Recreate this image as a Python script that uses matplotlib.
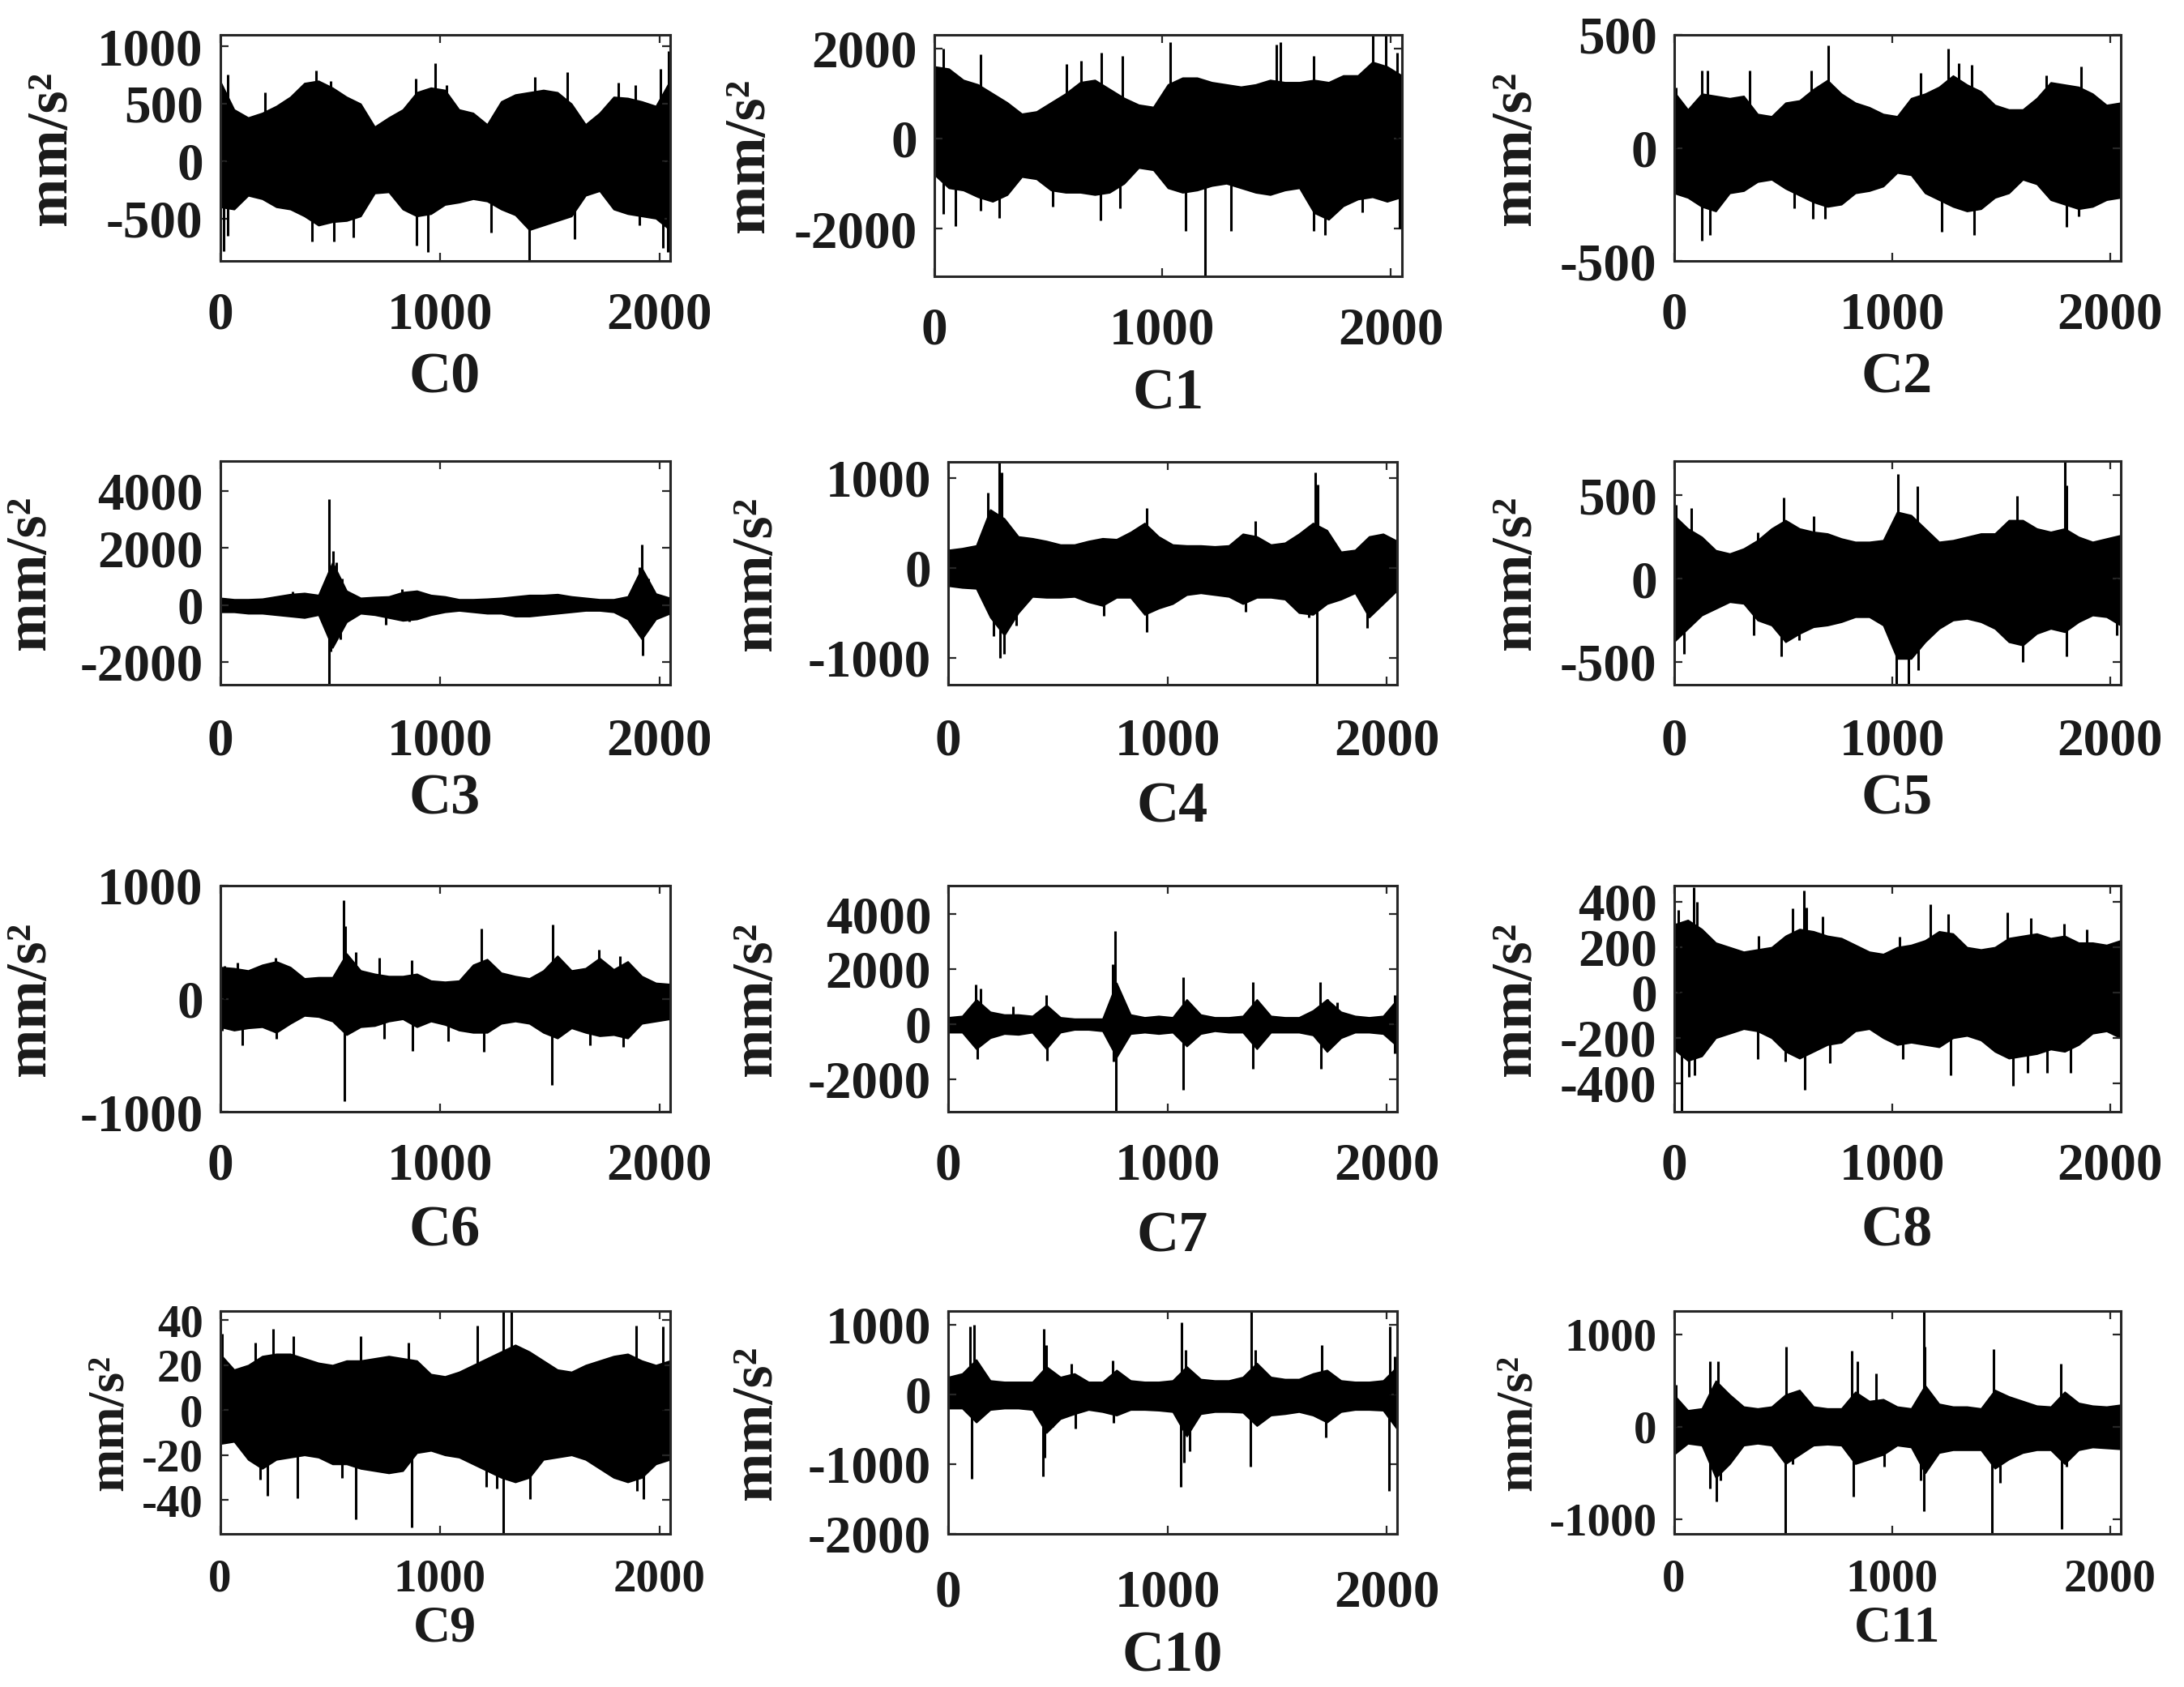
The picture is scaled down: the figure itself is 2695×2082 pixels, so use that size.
import numpy as np
import matplotlib
matplotlib.use('Agg')
import matplotlib.pyplot as plt

# fonts : bold Times-like serif, plain hyphen for negative numbers
plt.rcParams['font.family'] = ['Liberation Serif', 'DejaVu Serif']
plt.rcParams['font.weight'] = 'bold'
plt.rcParams['axes.unicode_minus'] = False

# step 1 : data
# envelope of each signal, read every 64 samples (0 .. 2048)
knots = np.arange(0, 2049, 64)

c0_upper = [700, 450, 380, 420, 480, 560, 680, 700, 640, 560, 500, 300, 380, 450, 600, 640, 620,
            450, 420, 320, 520, 580, 600, 620, 600, 500, 320, 420, 560, 550, 520, 480, 700]
c0_lower = [-400, -420, -300, -330, -400, -420, -480, -560, -530, -520, -480, -280, -270, -420, -480, -460, -380,
            -360, -330, -350, -420, -470, -600, -560, -520, -480, -300, -260, -420, -460, -480, -500, -600]
c0_peaks = [(36, 757), (205, 600), (438, 790), (502, 700), (890, 720), (978, 850), (1031, 660), (1434, 733),
            (1582, 773), (1815, 680), (1889, 660), (2006, 800), (2042, 960), (15, -783), (36, -650), (417, -700),
            (519, -700), (608, -665), (894, -735), (947, -795), (1233, -620), (1408, -860), (1614, -677),
            (1910, -560), (2016, -760), (2037, -790)]

c1_upper = [1600, 1550, 1300, 1200, 1000, 800, 550, 600, 800, 1000, 1250, 1300, 1100, 900, 750, 700, 1200,
            1350, 1350, 1250, 1200, 1150, 1200, 1300, 1250, 1250, 1300, 1250, 1400, 1400, 1700, 1600, 1400]
c1_lower = [-800, -1100, -1150, -1300, -1400, -1250, -850, -900, -1150, -1200, -1200, -1250, -1200, -1000, -650,
            -700, -1100, -1200, -1150, -1050, -1000, -1100, -1200, -1250, -1150, -1100, -1650, -1800, -1500,
            -1350, -1300, -1400, -1300]
c1_peaks = [(41, 2000), (204, 1870), (581, 1660), (642, 1720), (734, 1900), (825, 1840), (1035, 2140),
            (1498, 2080), (1518, 2140), (1661, 1840), (1922, 2300), (1977, 2300), (2028, 1900), (41, -1670),
            (92, -1940), (204, -1610), (285, -1760), (520, -1520), (728, -1820), (815, -1550), (1100, -2060),
            (1186, -3060), (1300, -2060), (1661, -2060), (1712, -2150), (1875, -1640), (2038, -2000)]

c2_upper = [250, 170, 240, 230, 220, 230, 150, 140, 200, 210, 260, 300, 240, 200, 180, 150, 140,
            220, 240, 270, 320, 280, 250, 190, 170, 170, 220, 290, 280, 270, 240, 190, 200]
c2_lower = [-200, -220, -260, -280, -200, -190, -150, -140, -180, -210, -240, -260, -250, -200, -190, -170, -110,
            -120, -200, -230, -260, -280, -270, -220, -200, -140, -160, -230, -250, -270, -260, -230, -220]
c2_peaks = [(9, 267), (128, 344), (156, 342), (348, 344), (629, 344), (708, 452), (1131, 332), (1259, 440),
            (1305, 375), (1365, 368), (1707, 320), (1866, 362), (128, -410), (166, -386), (550, -266),
            (636, -314), (693, -314), (1227, -370), (1376, -386), (1802, -350), (1856, -302)]

c3_upper = [250, 200, 200, 220, 300, 380, 420, 350, 1500, 500, 250, 280, 300, 450, 500, 350, 300,
            200, 200, 220, 250, 300, 350, 350, 380, 300, 250, 200, 200, 300, 1300, 400, 250]
c3_lower = [-250, -250, -300, -300, -350, -400, -450, -350, -1500, -600, -300, -350, -450, -550, -500, -350, -250,
            -200, -250, -300, -300, -400, -400, -350, -300, -250, -200, -200, -250, -500, -1200, -500, -300]
c3_peaks = [(498, 3714), (513, 1886), (530, 1500), (555, 930), (330, 460), (830, 550), (1910, 1314),
            (1921, 2124), (1949, 930), (498, -2800), (502, -1640), (548, -1210), (1925, -1780), (1910, -780),
            (756, -690), (862, -590)]

c4_upper = [200, 220, 250, 650, 550, 350, 330, 300, 260, 260, 300, 330, 320, 400, 500, 350, 260,
            250, 250, 240, 250, 380, 350, 260, 280, 380, 500, 420, 180, 200, 350, 380, 300]
c4_lower = [-200, -220, -230, -550, -750, -500, -320, -330, -330, -320, -380, -420, -330, -330, -520, -450, -400,
            -300, -280, -300, -320, -400, -330, -330, -350, -500, -520, -400, -350, -280, -550, -400, -250]
c4_peaks = [(180, 835), (233, 1180), (244, 1060), (906, 670), (1401, 520), (1676, 1060), (1687, 925),
            (208, -760), (238, -1000), (255, -955), (312, -640), (711, -530), (906, -715), (1358, -490),
            (1645, -550), (1681, -1300), (1910, -670)]

c5_upper = [380, 300, 250, 170, 150, 180, 230, 300, 350, 300, 280, 270, 240, 220, 220, 230, 400,
            380, 300, 220, 230, 250, 270, 270, 350, 350, 300, 280, 300, 250, 220, 240, 260]
c5_lower = [-380, -300, -220, -180, -140, -150, -250, -280, -380, -330, -290, -280, -260, -230, -230, -280, -480,
            -480, -380, -300, -250, -240, -260, -300, -380, -400, -330, -300, -320, -260, -220, -230, -280]
c5_peaks = [(9, 440), (81, 420), (384, 277), (503, 487), (640, 374), (1028, 625), (1116, 552), (1574, 495),
            (1792, 704), (1802, 560), (47, -450), (367, -338), (491, -467), (576, -370), (1020, -636),
            (1077, -636), (1120, -550), (1600, -500), (1802, -467), (2031, -338)]

c6_upper = [280, 270, 250, 300, 330, 280, 180, 190, 190, 400, 250, 220, 200, 200, 220, 160, 150,
            160, 300, 350, 230, 200, 180, 250, 380, 250, 270, 360, 260, 330, 200, 140, 130]
c6_lower = [-250, -280, -260, -250, -300, -220, -150, -160, -200, -320, -250, -240, -200, -180, -250, -200, -230,
            -280, -300, -300, -220, -200, -220, -300, -350, -260, -300, -330, -320, -350, -220, -200, -180]
c6_peaks = [(21, 293), (78, 317), (254, 365), (561, 868), (570, 640), (618, 413), (724, 365), (873, 340),
            (1190, 617), (1514, 653), (1724, 437), (1822, 377), (11, -280), (100, -413), (258, -353),
            (566, -904), (748, -353), (877, -461), (1038, -377), (1201, -473), (1512, -760), (1684, -413),
            (1836, -425)]

c7_upper = [250, 300, 900, 450, 350, 350, 300, 700, 250, 200, 200, 200, 1500, 350, 250, 300, 250,
            900, 350, 250, 250, 300, 900, 300, 250, 250, 500, 900, 450, 300, 250, 300, 900]
c7_lower = [-300, -300, -900, -500, -350, -380, -300, -900, -300, -200, -200, -250, -1200, -350, -300, -350, -300,
            -800, -350, -250, -300, -300, -900, -300, -300, -300, -400, -1000, -500, -300, -300, -350, -800]
c7_peaks = [(127, 1440), (149, 1290), (297, 650), (446, 1045), (750, 2180), (760, 3380), (1072, 1700),
            (1390, 1540), (1698, 1540), (1730, 900), (1773, 800), (2037, 1045), (132, -1270), (450, -1320),
            (755, -1370), (765, -3180), (1072, -2400), (1390, -1615), (1702, -1615), (2037, -1075)]

c8_upper = [300, 320, 280, 220, 200, 180, 190, 200, 250, 280, 270, 250, 240, 210, 180, 170, 200,
            210, 230, 270, 260, 200, 190, 200, 240, 250, 260, 240, 250, 220, 220, 210, 230]
c8_lower = [-250, -300, -280, -200, -180, -160, -170, -200, -260, -290, -260, -230, -220, -170, -160, -200, -230,
            -220, -230, -240, -200, -190, -210, -260, -290, -280, -270, -250, -260, -230, -180, -170, -200]
c8_peaks = [(21, 364), (90, 465), (107, 400), (388, 250), (544, 370), (597, 448), (608, 376), (683, 334),
            (1036, 245), (1177, 388), (1258, 346), (1529, 352), (1638, 328), (1788, 304), (1894, 280),
            (36, -525), (68, -370), (96, -365), (384, -293), (512, -305), (602, -430), (715, -310),
            (1049, -293), (1269, -365), (1557, -412), (1621, -352), (1713, -352), (1819, -352)]

c9_upper = [25, 18, 20, 24, 25, 25, 23, 21, 20, 22, 22, 23, 24, 23, 22, 16, 15,
            17, 20, 23, 26, 29, 26, 22, 18, 17, 20, 22, 24, 25, 22, 20, 22]
c9_lower = [-15, -14, -22, -26, -22, -21, -20, -21, -24, -24, -26, -27, -28, -27, -19, -18, -20,
            -21, -24, -27, -30, -32, -30, -22, -21, -20, -22, -26, -30, -32, -30, -24, -22]
c9_peaks = [(11, 34), (159, 30), (243, 36), (333, 33), (640, 33), (856, 30), (1173, 37.6), (1290, 44),
            (1328, 43.6), (1896, 37.6), (2016, 37), (184, -31), (216, -38), (354, -39), (555, -30),
            (618, -48.6), (872, -52), (1211, -34), (1261, -35), (1290, -55), (1413, -39.5), (1900, -36),
            (1926, -39.5)]

c10_upper = [250, 300, 500, 200, 180, 180, 180, 400, 250, 300, 180, 180, 350, 200, 180, 180, 200,
             400, 220, 200, 200, 250, 450, 250, 220, 220, 300, 350, 200, 180, 180, 200, 400]
c10_lower = [-200, -200, -400, -220, -200, -200, -220, -550, -350, -280, -220, -250, -300, -220, -220, -230, -250,
             -600, -280, -250, -250, -260, -450, -300, -280, -250, -300, -400, -250, -220, -220, -230, -500]
c10_peaks = [(100, 980), (117, 1000), (435, 940), (446, 710), (562, 445), (749, 483), (1065, 1036), (1082, 636),
             (1384, 1195), (1401, 636), (1704, 712), (2016, 980), (2037, 540), (108, -1210), (431, -1173),
             (440, -907), (478, -470), (579, -490), (753, -410), (1061, -1325), (1076, -983), (1103, -810),
             (1380, -1040), (1721, -620), (2010, -1383)]

c11_upper = [350, 180, 200, 500, 350, 220, 200, 220, 350, 400, 220, 200, 200, 380, 280, 300, 220,
             200, 450, 250, 220, 220, 200, 400, 330, 280, 230, 220, 380, 260, 230, 220, 240]
c11_lower = [-300, -180, -200, -550, -400, -200, -180, -200, -400, -300, -200, -190, -200, -400, -350, -300, -200,
             -220, -500, -280, -250, -250, -250, -450, -350, -280, -250, -250, -400, -250, -220, -230, -240]
c11_peaks = [(9, 460), (164, 708), (202, 708), (516, 870), (815, 825), (843, 708), (928, 577), (1148, 1254),
             (1152, 870), (1465, 840), (1775, 680), (166, -664), (196, -810), (213, -577), (512, -1158),
             (544, -400), (824, -752), (964, -430), (1131, -577), (1148, -912), (1459, -1158), (1497, -606),
             (1777, -1102), (1802, -430)]

names = ['C0', 'C1', 'C2', 'C3', 'C4', 'C5', 'C6', 'C7', 'C8', 'C9', 'C10', 'C11']
uppers = [c0_upper, c1_upper, c2_upper, c3_upper, c4_upper, c5_upper,
          c6_upper, c7_upper, c8_upper, c9_upper, c10_upper, c11_upper]
lowers = [c0_lower, c1_lower, c2_lower, c3_lower, c4_lower, c5_lower,
          c6_lower, c7_lower, c8_lower, c9_lower, c10_lower, c11_lower]
peaks = [c0_peaks, c1_peaks, c2_peaks, c3_peaks, c4_peaks, c5_peaks,
         c6_peaks, c7_peaks, c8_peaks, c9_peaks, c10_peaks, c11_peaks]
ylims = [(-870, 1100), (-3060, 2300), (-500, 500), (-2800, 5050), (-1300, 1180), (-636, 704),
         (-1000, 1000), (-3180, 5030), (-525, 471), (-55, 44), (-2000, 1195), (-1158, 1254)]
yticks = [[-500, 0, 500, 1000], [-2000, 0, 2000], [-500, 0, 500], [-2000, 0, 2000, 4000],
          [-1000, 0, 1000], [-500, 0, 500], [-1000, 0, 1000], [-2000, 0, 2000, 4000],
          [-400, -200, 0, 200, 400], [-40, -20, 0, 20, 40], [-2000, -1000, 0, 1000], [-1000, 0, 1000]]
xticks = [0, 1000, 2000]

# step 2 : layout (pixels of the 2695 x 2082 picture)
W, H = 2695, 2082
# left, right, top, bottom of each axes box
boxes = [(271.5, 826.6, 43, 322), (1152.7, 1729.6, 43, 341), (2065.5, 2616.6, 43, 322),
         (271.5, 826.6, 569, 845), (1170, 1724, 570, 845), (2065.5, 2616.6, 569, 845),
         (271.5, 826.6, 1093, 1372), (1170, 1724, 1093, 1372), (2065.5, 2616.6, 1093, 1372),
         (271.5, 826.6, 1618, 1893), (1170, 1724, 1618, 1893), (2065.5, 2616.6, 1618, 1893)]
ylab_off = [208, 228, 195, 234, 236, 195, 234, 236, 195, 136, 236, 192]
xlab_off = [145, 146, 145, 142, 152, 142, 148, 155, 148, 117, 152, 117]
xpad = [27, 27, 27, 29, 29, 29, 27, 27, 27, 22, 31, 22]
tick_fs = [47, 47, 47, 47, 47, 47, 47, 47, 47, 41, 47, 41]
lab_fs = [52, 52, 52, 52, 52, 52, 52, 52, 52, 46, 52, 46]

frame = '#262626'

# step 3 : draw
fig = plt.figure(figsize=(W / 100, H / 100), dpi=100)

for i in range(12):
    l, r, t, b = boxes[i]
    ax = fig.add_axes([l / W, 1 - b / H, (r - l) / W, (b - t) / H])

    # dense part of the signal, then the isolated peaks
    ax.fill_between(knots, lowers[i], uppers[i], color='k', lw=1.2)
    px = [p[0] for p in peaks[i]]
    py = [p[1] for p in peaks[i]]
    ax.vlines(px, 0, py, color='k', lw=2.2)

    ax.set_xlim(0, 2048)
    ax.set_ylim(*ylims[i])
    ax.set_xticks(xticks)
    ax.set_yticks(yticks[i])

    for s in ax.spines.values():
        s.set_linewidth(2.2)
        s.set_color(frame)
    ax.tick_params(direction='in', top=True, right=True, length=7, width=1.6,
                   color=frame, labelsize=tick_fs[i], labelcolor='#1a1a1a')
    ax.tick_params(axis='x', pad=xpad[i])
    ax.tick_params(axis='y', pad=15)
    for lab in ax.get_xticklabels() + ax.get_yticklabels():
        lab.set_fontweight('bold')

    ax.set_xlabel(names[i], fontsize=lab_fs[i], fontweight='bold', va='center', color='#1a1a1a')
    ax.xaxis.set_label_coords(0.5, -xlab_off[i] / (b - t))
    ax.set_ylabel('mm/s²', fontsize=lab_fs[i], fontweight='bold', va='center', color='#1a1a1a')
    ax.yaxis.set_label_coords(-ylab_off[i] / (r - l), 0.5)

fig.savefig('out.png', dpi=100, facecolor='white')
